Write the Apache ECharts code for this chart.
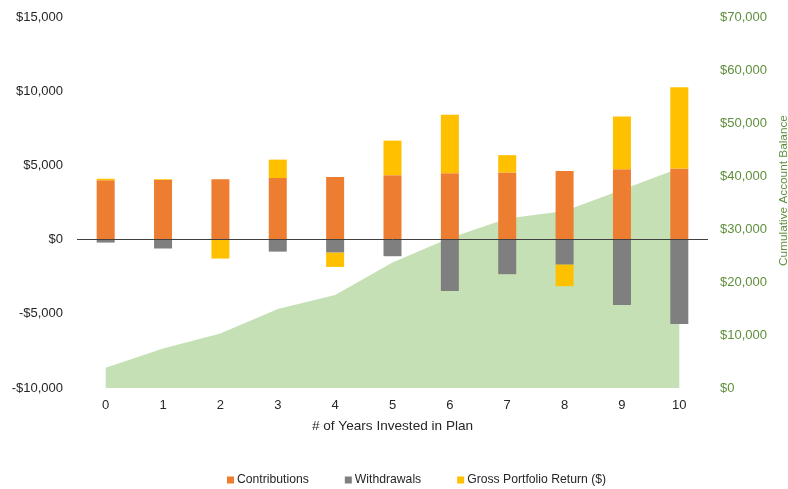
<!DOCTYPE html>
<html>
<head>
<meta charset="utf-8">
<script src="https://cdn.jsdelivr.net/npm/echarts@6/dist/echarts.min.js"></script>
<style>
  html, body { margin: 0; padding: 0; background: #fff; }
  #chart { width: 788px; height: 489px; }
</style>
</head>
<body>
<div id="chart"></div>
<script>
// Years in the plan
const years = ['0', '1', '2', '3', '4', '5', '6', '7', '8', '9', '10'];

// Yearly cash flows ($)
const contributions = [4000, 4020, 4060, 4150, 4220, 4340, 4470, 4520, 4630, 4740, 4790];
const withdrawals = [-200, -600, 0, -810, -880, -1120, -3460, -2330, -1690, -4400, -5680];
const grossReturn = [100, 50, -1280, 1240, -960, 2330, 3950, 1170, -1450, 3550, 5480];

// Running account balance ($)
const cumulativeBalance = [3800, 7450, 10300, 14900, 17550, 23700, 28300, 32000, 33400, 37400, 41450];

const FONT = "'Liberation Sans', Arial, sans-serif";
const TEXT = '#262626';
const GREEN_TEXT = '#5e8f3c';

function money(v) {
  const s = '$' + Math.abs(v).toLocaleString('en-US');
  return v < 0 ? '-' + s : s;
}

const chart = echarts.init(document.getElementById('chart'));
chart.setOption({
  animation: false,
  textStyle: { fontFamily: FONT },
  grid: { left: 77, right: 80, top: 17, bottom: 101, containLabel: false, outerBoundsMode: 'none' },
  legend: {
    left: 222,
    top: 469,
    icon: 'rect',
    itemWidth: 7,
    itemHeight: 7,
    itemGap: 36,
    textStyle: { fontFamily: FONT, fontSize: 12.2, color: TEXT, padding: [0, 0, 0, -2] },
    data: ['Contributions', 'Withdrawals', 'Gross Portfolio Return ($)']
  },
  xAxis: {
    type: 'category',
    data: years,
    axisLine: { show: false, onZero: false },
    axisTick: { show: false },
    axisLabel: { color: TEXT, fontSize: 13, margin: 11, fontFamily: FONT },
    name: '# of Years Invested in Plan',
    nameLocation: 'middle',
    nameGap: 31,
    nameTextStyle: { color: TEXT, fontSize: 13.6, fontFamily: FONT }
  },
  yAxis: [
    {
      type: 'value',
      min: -10000,
      max: 15000,
      interval: 5000,
      splitLine: { show: false },
      axisLine: { show: false },
      axisTick: { show: false },
      axisLabel: { color: TEXT, fontSize: 13, margin: 14, fontFamily: FONT, formatter: money }
    },
    {
      type: 'value',
      min: 0,
      max: 70000,
      interval: 10000,
      position: 'right',
      splitLine: { show: false },
      axisLine: { show: false },
      axisTick: { show: false },
      axisLabel: { color: GREEN_TEXT, fontSize: 13, margin: 12, fontFamily: FONT, formatter: money },
      name: 'Cumulative Account Balance',
      nameLocation: 'middle',
      nameRotate: 90,
      nameGap: 63,
      nameTextStyle: { color: GREEN_TEXT, fontSize: 11.8, fontFamily: FONT, padding: [0, 0, 0, 24] }
    }
  ],
  series: [
    {
      name: 'Cumulative Account Balance',
      type: 'line',
      yAxisIndex: 1,
      data: cumulativeBalance,
      symbol: 'none',
      lineStyle: { width: 0 },
      areaStyle: { color: '#c5e0b4', opacity: 1 },
      z: 1
    },
    {
      name: 'Contributions',
      type: 'bar',
      stack: 'flows',
      data: contributions,
      barWidth: 18,
      itemStyle: { color: '#ed7d31' },
      z: 3
    },
    {
      name: 'Withdrawals',
      type: 'bar',
      stack: 'flows',
      data: withdrawals,
      barWidth: 18,
      itemStyle: { color: '#7f7f7f' },
      z: 3
    },
    {
      name: 'Gross Portfolio Return ($)',
      type: 'bar',
      stack: 'flows',
      data: grossReturn,
      barWidth: 18,
      itemStyle: { color: '#ffc000' },
      z: 3,
      markLine: {
        silent: true,
        symbol: 'none',
        label: { show: false },
        lineStyle: { color: '#404040', width: 1, type: 'solid' },
        data: [{ yAxis: 0 }]
      }
    }
  ]
});
</script>
</body>
</html>
